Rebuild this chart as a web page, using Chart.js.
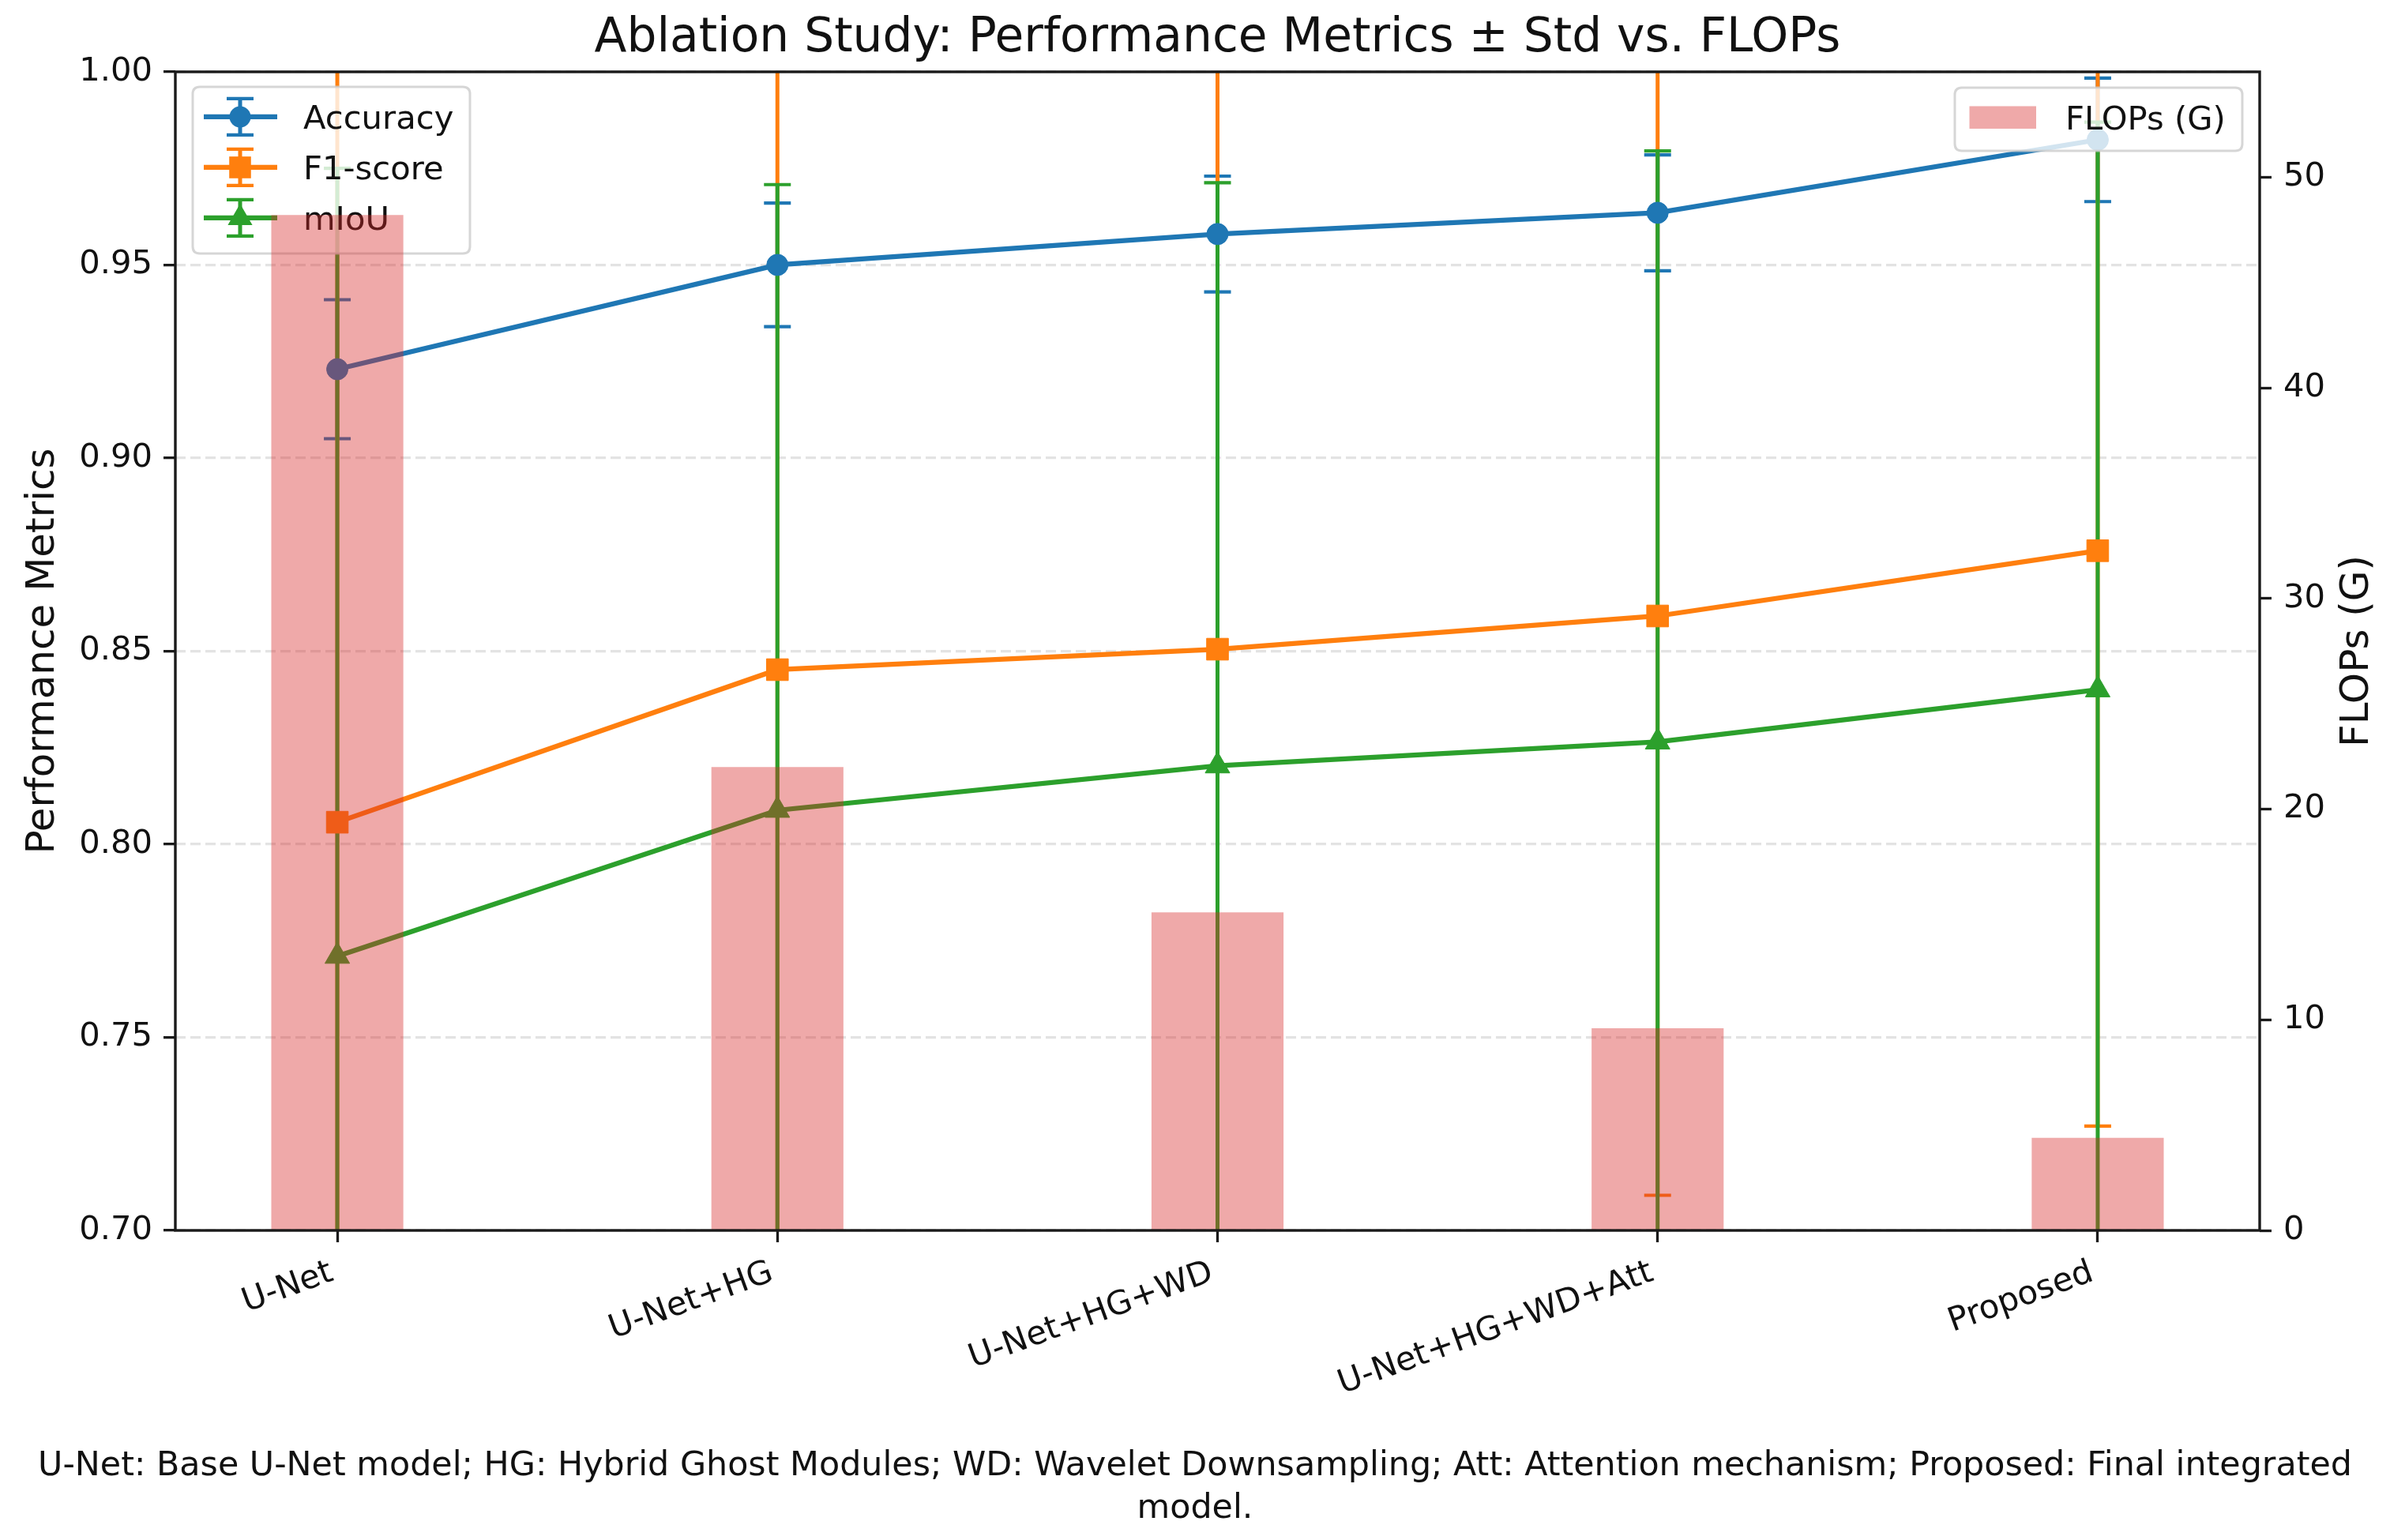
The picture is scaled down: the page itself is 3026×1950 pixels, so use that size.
<!DOCTYPE html>
<html>
<head>
<meta charset="utf-8">
<script src="https://cdn.jsdelivr.net/npm/chart.js@4.4.1/dist/chart.umd.min.js"></script>
<style>
html,body{margin:0;padding:0;background:#fff;}
#wrap{width:3026px;height:1950px;position:relative;}
canvas{display:block;}
</style>
</head>
<body>
<div id="wrap"><canvas id="c" width="3026" height="1950" style="width:3026px;height:1950px"></canvas></div>
<script>
// ---------------- data ----------------
const categories = ['U-Net', 'U-Net+HG', 'U-Net+HG+WD', 'U-Net+HG+WD+Att', 'Proposed'];
const accuracy    = [0.923, 0.950, 0.958, 0.9635, 0.9824];
const accuracyStd = [0.018, 0.016, 0.015, 0.015, 0.016];
const f1Score     = [0.8057, 0.8452, 0.8505, 0.8591, 0.876];
const f1Std       = [0.200, 0.160, 0.155, 0.150, 0.149];
const mIoU        = [0.771, 0.8088, 0.8203, 0.8265, 0.840];
const mIoUStd     = [0.204, 0.162, 0.151, 0.153, 0.147];
const flops       = [48.2, 22.0, 15.1, 9.6, 4.4];
const leftTicks   = [0.70, 0.75, 0.80, 0.85, 0.90, 0.95, 1.00];
const rightTicks  = [0, 10, 20, 30, 40, 50];
const titleText   = 'Ablation Study: Performance Metrics \u00b1 Std vs. FLOPs';
const leftLabel   = 'Performance Metrics';
const rightLabel  = 'FLOPs (G)';
const footnote    = ['U-Net: Base U-Net model; HG: Hybrid Ghost Modules; WD: Wavelet Downsampling; Att: Attention mechanism; Proposed: Final integrated', 'model.'];

// ---------------- style ----------------
const FONT = "'DejaVu Sans', 'Liberation Sans', sans-serif";
const C_BLUE = '#1f77b4', C_ORANGE = '#ff7f0e', C_GREEN = '#2ca02c';
const C_BAR = 'rgba(214,39,40,0.4)';
const TICK_PX = 41.7, LABEL_PX = 50, TITLE_PX = 59.8, NOTE_PX = 42.8;

Chart.defaults.font.family = FONT;
Chart.defaults.color = '#111';

const toXY = (arr) => arr.map((v, i) => ({x: i, y: v}));

function markerPath(ctx, style, x, y, r) {
  ctx.beginPath();
  if (style === 'circle') {
    ctx.arc(x, y, r, 0, Math.PI * 2);
  } else if (style === 'rect') {
    const s = r * Math.SQRT1_2;
    ctx.rect(x - s, y - s, 2 * s, 2 * s);
  } else if (style === 'triangle') {
    for (let k = 0; k < 3; k++) {
      const a = k * 2 * Math.PI / 3;
      const px = x + Math.sin(a) * r, py = y - Math.cos(a) * r;
      if (k === 0) ctx.moveTo(px, py); else ctx.lineTo(px, py);
    }
    ctx.closePath();
  }
}

function roundRect(ctx, x, y, w, h, r) {
  ctx.beginPath();
  ctx.moveTo(x + r, y);
  ctx.lineTo(x + w - r, y);
  ctx.quadraticCurveTo(x + w, y, x + w, y + r);
  ctx.lineTo(x + w, y + h - r);
  ctx.quadraticCurveTo(x + w, y + h, x + w - r, y + h);
  ctx.lineTo(x + r, y + h);
  ctx.quadraticCurveTo(x, y + h, x, y + h - r);
  ctx.lineTo(x, y + r);
  ctx.quadraticCurveTo(x, y, x + r, y);
  ctx.closePath();
}

// error bars (under all lines), drawn with the chart's own scales
const errorBarPlugin = {
  id: 'errorBars',
  beforeDatasetsDraw(chart) {
    const {ctx, chartArea: ca} = chart;
    ctx.save();
    ctx.beginPath();
    ctx.rect(ca.left, ca.top, ca.right - ca.left, ca.bottom - ca.top);
    ctx.clip();
    chart.data.datasets.forEach((ds, di) => {
      if (!ds.errorBars) return;
      const meta = chart.getDatasetMeta(di);
      const ys = chart.scales[meta.yAxisID];
      ctx.strokeStyle = ds.borderColor;
      ctx.lineCap = 'butt';
      meta.data.forEach((pt, i) => {
        const v = ds.data[i].y, e = ds.errorBars[i];
        const yt = ys.getPixelForValue(v + e), yb = ys.getPixelForValue(v - e);
        const x = pt.x;
        ctx.lineWidth = 5;
        ctx.beginPath(); ctx.moveTo(x, yt); ctx.lineTo(x, yb); ctx.stroke();
        ctx.lineWidth = 4.2;
        ctx.beginPath();
        ctx.moveTo(x - 17, yt); ctx.lineTo(x + 17, yt);
        ctx.moveTo(x - 17, yb); ctx.lineTo(x + 17, yb);
        ctx.stroke();
      });
    });
    ctx.restore();
  }
};

function drawMetricLegend(chart) {
  const {ctx, chartArea: ca} = chart;
  const bx = ca.left + 22, by = ca.top + 19, bw = 351, bh = 211;
  ctx.save();
  roundRect(ctx, bx, by, bw, bh, 9);
  ctx.fillStyle = 'rgba(255,255,255,0.8)';
  ctx.fill();
  ctx.lineWidth = 3;
  ctx.strokeStyle = 'rgba(204,204,204,0.8)';
  ctx.stroke();
  const lineSets = chart.data.datasets.filter(d => d.errorBars);
  lineSets.forEach((ds, i) => {
    const cy = by + 38 + 64 * i;
    const xc = bx + 60;
    ctx.strokeStyle = ds.borderColor;
    ctx.fillStyle = ds.borderColor;
    ctx.lineWidth = 6.25;
    ctx.beginPath(); ctx.moveTo(bx + 14, cy); ctx.lineTo(bx + 107, cy); ctx.stroke();
    ctx.lineWidth = 5;
    ctx.beginPath(); ctx.moveTo(xc, cy - 23); ctx.lineTo(xc, cy + 23); ctx.stroke();
    ctx.lineWidth = 4.2;
    ctx.beginPath();
    ctx.moveTo(xc - 17, cy - 23); ctx.lineTo(xc + 17, cy - 23);
    ctx.moveTo(xc - 17, cy + 23); ctx.lineTo(xc + 17, cy + 23);
    ctx.stroke();
    markerPath(ctx, ds.pointStyle, xc, cy, ds.pointRadius);
    ctx.fill();
    ctx.fillStyle = '#111';
    ctx.font = TICK_PX + 'px ' + FONT;
    ctx.textBaseline = 'middle';
    ctx.textAlign = 'left';
    ctx.fillText(ds.label, bx + 140, by + 42.5 + 64 * i);
  });
  ctx.restore();
}

function drawFlopsLegend(chart) {
  const {ctx, chartArea: ca} = chart;
  const bw = 364, bh = 80;
  const bx = ca.right - 22 - bw, by = ca.top + 20;
  const ds = chart.data.datasets.find(d => d.type === 'bar');
  ctx.save();
  roundRect(ctx, bx, by, bw, bh, 9);
  ctx.fillStyle = 'rgba(255,255,255,0.8)';
  ctx.fill();
  ctx.lineWidth = 3;
  ctx.strokeStyle = 'rgba(204,204,204,0.8)';
  ctx.stroke();
  ctx.fillStyle = ds.backgroundColor;
  ctx.fillRect(bx + 18.5, by + 23.5, 84.5, 28.5);
  ctx.fillStyle = '#111';
  ctx.font = TICK_PX + 'px ' + FONT;
  ctx.textBaseline = 'middle';
  ctx.textAlign = 'left';
  ctx.fillText(ds.label, bx + 140, by + 42.5);
  ctx.restore();
}

const layerPlugin = {
  id: 'layers',
  beforeDatasetDraw(chart, args) {
    const ds = chart.data.datasets[args.index];
    if (ds.type === 'bar') drawMetricLegend(chart);
  },
  afterDatasetsDraw(chart) {
    drawFlopsLegend(chart);
    const {ctx, chartArea: ca} = chart;
    ctx.save();
    ctx.strokeStyle = '#1a1a1a';
    ctx.lineWidth = 3.4;
    ctx.strokeRect(ca.left, ca.top, ca.right - ca.left, ca.bottom - ca.top);
    // right axis label, reading bottom-to-top like matplotlib's twin axis label
    const ys = chart.scales.y1;
    ctx.translate(ys.right - 41, (ca.top + ca.bottom) / 2);
    ctx.rotate(-Math.PI / 2);
    ctx.fillStyle = '#111';
    ctx.font = LABEL_PX + 'px ' + FONT;
    ctx.textAlign = 'center';
    ctx.textBaseline = 'middle';
    ctx.fillText(rightLabel, 0, 0);
    ctx.restore();
  }
};

const lineCommon = {
  type: 'line',
  yAxisID: 'y',
  borderWidth: 6.25,
  tension: 0,
  fill: false,
  pointBorderWidth: 1,
};

new Chart(document.getElementById('c'), {
  type: 'line',
  data: {
    datasets: [
      Object.assign({}, lineCommon, {
        label: 'Accuracy', data: toXY(accuracy), errorBars: accuracyStd,
        borderColor: C_BLUE, backgroundColor: C_BLUE,
        pointBackgroundColor: C_BLUE, pointBorderColor: C_BLUE,
        pointStyle: 'circle', pointRadius: 13.5, order: 3
      }),
      Object.assign({}, lineCommon, {
        label: 'F1-score', data: toXY(f1Score), errorBars: f1Std,
        borderColor: C_ORANGE, backgroundColor: C_ORANGE,
        pointBackgroundColor: C_ORANGE, pointBorderColor: C_ORANGE,
        pointStyle: 'rect', pointRadius: 19.5, order: 2
      }),
      Object.assign({}, lineCommon, {
        label: 'mIoU', data: toXY(mIoU), errorBars: mIoUStd,
        borderColor: C_GREEN, backgroundColor: C_GREEN,
        pointBackgroundColor: C_GREEN, pointBorderColor: C_GREEN,
        pointStyle: 'triangle', pointRadius: 18, order: 1
      }),
      {
        type: 'bar', label: 'FLOPs (G)', data: toXY(flops), yAxisID: 'y1',
        backgroundColor: C_BAR, borderWidth: 0,
        barPercentage: 0.3, categoryPercentage: 1.0, order: 0
      }
    ]
  },
  options: {
    responsive: false,
    devicePixelRatio: 1,
    animation: false,
    events: [],
    layout: {padding: 0},
    plugins: {
      legend: {display: false},
      tooltip: {enabled: false},
      title: {
        display: true, text: titleText, position: 'top', fullSize: false,
        color: '#111', font: {size: TITLE_PX, weight: 'normal', lineHeight: 1.2},
        padding: {top: 14, bottom: 5.2}
      },
      subtitle: {
        display: true, text: footnote, position: 'bottom',
        color: '#111', font: {size: NOTE_PX, weight: 'normal', lineHeight: 54 / NOTE_PX},
        padding: {top: 0, bottom: 12}
      }
    },
    scales: {
      x: {
        type: 'linear', position: 'bottom', min: -0.368, max: 4.368, offset: false,
        afterBuildTicks: (s) => { s.ticks = categories.map((_, i) => ({value: i})); },
        afterFit: (s) => { s.height = 272; },
        ticks: {
          callback: (v) => categories[v],
          autoSkip: false, minRotation: 20, maxRotation: 20,
          font: {size: TICK_PX}, color: '#111', padding: 14, labelOffset: -7
        },
        grid: {display: true, offset: false, drawOnChartArea: false, drawTicks: true,
               tickLength: 15, tickWidth: 3.3, tickColor: '#1a1a1a'},
        border: {display: false}
      },
      y: {
        type: 'linear', position: 'left', min: 0.70, max: 1.00,
        afterBuildTicks: (s) => { s.ticks = leftTicks.map(v => ({value: v})); },
        afterFit: (s) => { s.width = 222; },
        ticks: {callback: (v) => Number(v).toFixed(2), font: {size: TICK_PX}, color: '#111', padding: 14},
        grid: {display: true, offset: false, drawOnChartArea: true, color: 'rgba(176,176,176,0.35)', lineWidth: 3.3,
               drawTicks: true, tickLength: 15, tickWidth: 3.3, tickColor: '#1a1a1a', tickBorderDash: []},
        border: {display: false, dash: [13, 6]},
        title: {display: true, text: leftLabel, color: '#111',
                font: {size: LABEL_PX, lineHeight: 1.2}, padding: {top: 25, bottom: 0}}
      },
      y1: {
        type: 'linear', position: 'right', min: 0, max: 55,
        afterBuildTicks: (s) => { s.ticks = rightTicks.map(v => ({value: v})); },
        afterFit: (s) => { s.width = 165; },
        ticks: {callback: (v) => String(v), font: {size: TICK_PX}, color: '#111', padding: 15},
        grid: {display: true, offset: false, drawOnChartArea: false, drawTicks: true,
               tickLength: 15, tickWidth: 3.3, tickColor: '#1a1a1a'},
        border: {display: false},
        title: {display: false}
      }
    }
  },
  plugins: [errorBarPlugin, layerPlugin]
});
</script>
</body>
</html>
